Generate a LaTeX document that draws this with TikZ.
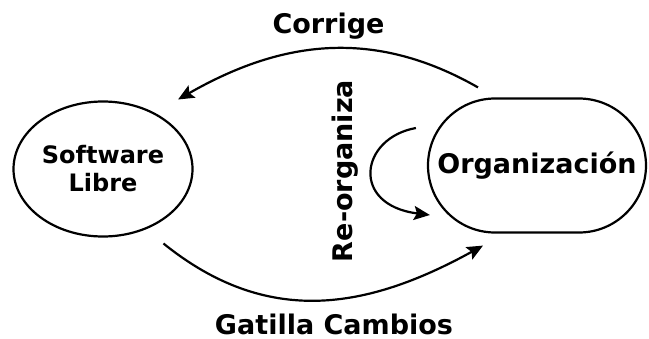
\documentclass[tikz,border=0pt]{standalone}
\usepackage{fontspec}
\setmainfont{DejaVu Sans}
\usetikzlibrary{arrows.meta,shapes.geometric,shapes.misc}
\begin{document}
\begin{tikzpicture}[x=1pt,y=-1pt,
  every node/.style={font=\bfseries},
  bigtxt/.style={font=\bfseries\fontsize{27}{32}\selectfont},
  lbl/.style={bigtxt,inner sep=0pt,text depth=0pt},
  conn/.style={line width=2.2pt,-{Stealth[length=16pt,width=14pt,inset=3pt]}},
  border/.style={draw,line width=2.2pt}]
\useasboundingbox (0,0) rectangle (649,338);
\node[border,ellipse,minimum width=179pt,minimum height=135pt,inner sep=0pt,
  align=center,font=\bfseries\fontsize{24}{28}\selectfont] (sw) at (103,169) {Software\\Libre};
\node[border,rounded rectangle,minimum width=218pt,minimum height=134pt,inner sep=0pt,bigtxt] (org) at (537,165.5) {Organización};
\node[lbl,anchor=base] (corr) at (328.5,33) {Corrige};
\node[lbl,anchor=base] (gat) at (334,334) {Gatilla Cambios};
\node[bigtxt,rotate=90] (reorg) at (345,171) {Re-organiza};
\draw[conn] ([shift={(-59,-10)}]org.north) .. controls (374,28) and (282,40) .. ([shift={(11,-21)}]sw.north east);
\draw[conn] ([shift={(-3.6,26)}]sw.south east) .. controls (267,327) and (366,310) .. ([shift={(-54,12)}]org.south);
\draw[conn] ([shift={(-11,-37.5)}]org.west) .. controls (360,138) and (350,205) .. ([shift={(3,49.5)}]org.west);
\end{tikzpicture}
\end{document}
